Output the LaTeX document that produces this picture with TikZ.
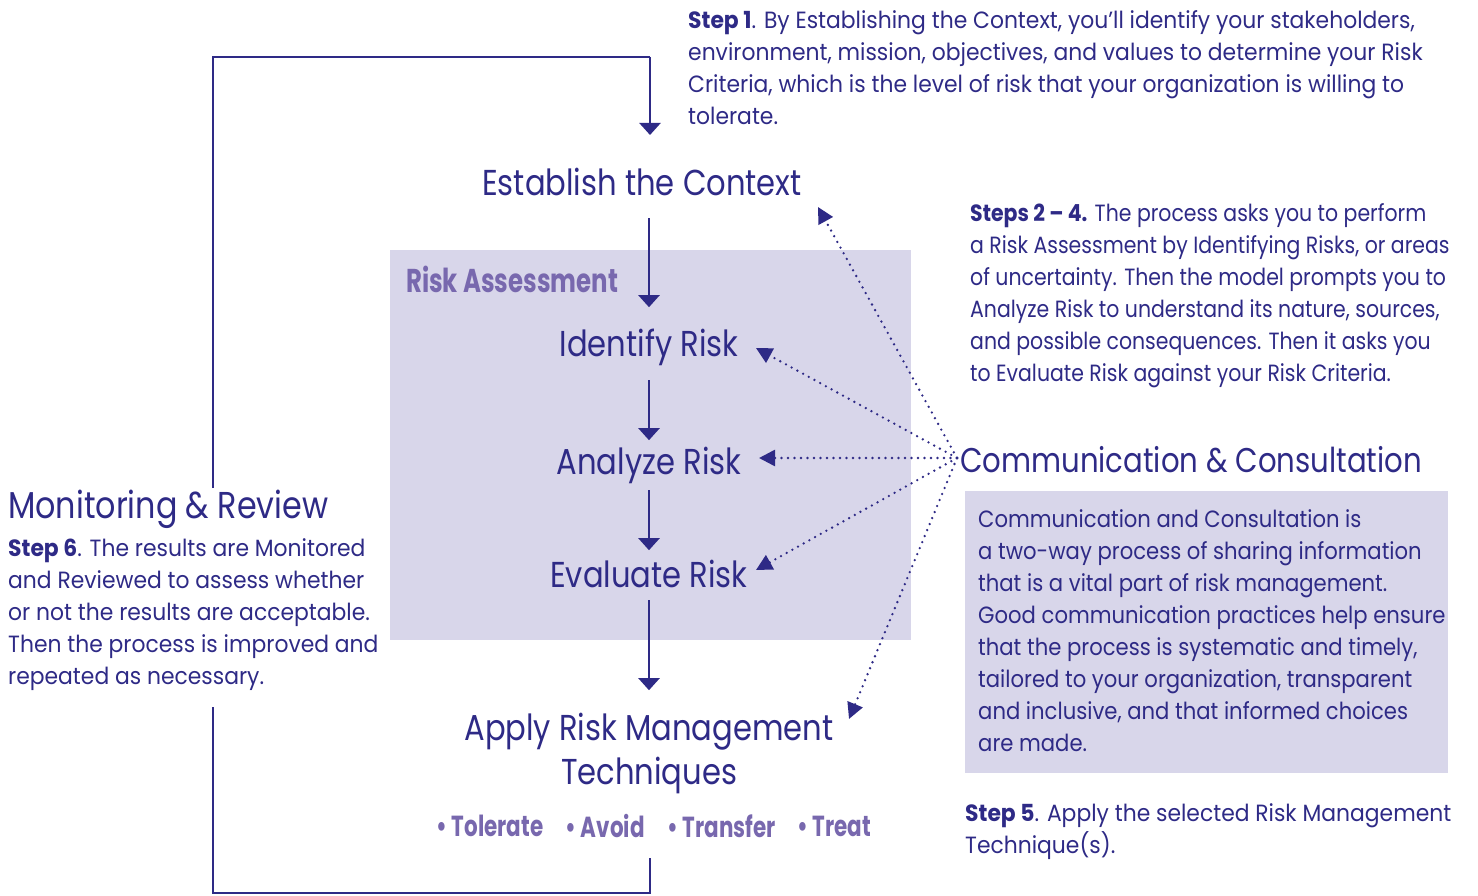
\documentclass[tikz,border=0pt]{standalone}
\usepackage{fontspec}
\setmainfont{Poppins}
\newfontfamily\headfont[FakeStretch=0.85]{Poppins}
\newfontfamily\bodyfont[FakeStretch=0.93]{Poppins}
\newfontfamily\boxbody[FakeStretch=0.90]{Poppins}
\newfontfamily\narrowbody[FakeStretch=0.87]{Poppins}
\newfontfamily\condbold[FakeStretch=0.74]{Poppins}
\usetikzlibrary{arrows.meta}
\definecolor{ink}{HTML}{2E2A86}
\definecolor{boxfill}{HTML}{D8D6EA}
\definecolor{lab}{HTML}{7868AE}
\begin{document}
\begin{tikzpicture}[x=1pt,y=-1pt,
  every node/.style={text=ink,inner sep=0pt},
  heading/.style={font=\headfont\fontsize{36}{44}\selectfont,text height=26pt,text depth=8pt,anchor=base},
  para/.style={font=\bodyfont\fontsize{23.5}{32}\selectfont,align=left,anchor=north west},
  arr/.style={draw=ink,line width=2.4pt,-{Triangle[length=12pt,width=21pt]}},
  loopline/.style={draw=ink,line width=2.4pt},
  dots/.style={draw=ink,line width=2.6pt,line cap=round,dash pattern=on 0pt off 6.5pt,-{Triangle[length=16pt,width=16pt]}},
  bul/.style={text=lab,font=\condbold\bfseries\fontsize{29}{34}\selectfont,anchor=west}
]
\useasboundingbox (0,0) rectangle (1478,896);
% shaded boxes
\node[fill=boxfill,minimum width=521pt,minimum height=390pt,anchor=north west] (rabox) at (390,250) {};
\node[fill=boxfill,minimum width=483pt,minimum height=282pt,anchor=north west] (ccbox) at (965,491) {};
\node[text=lab,font=\condbold\bfseries\fontsize{33}{38}\selectfont,anchor=west] (ralab) at (406,279) {Risk Assessment};

% headings
\node[heading] (ctx) at (642,196) {Establish the Context};
\node[heading] (id) at (649,356) {Identify Risk};
\node[heading] (az) at (649,474) {Analyze Risk};
\node[heading] (ev) at (649,587) {Evaluate Risk};
\node[heading,align=center] (ap) at (649,784) {Apply Risk Management\\Techniques};
\node[heading,anchor=base west,font=\headfont\fontsize{34.3}{44}\selectfont] (cc) at (960,472) {Communication \& Consultation};
\node[heading,anchor=base west,font=\headfont\fontsize{37.4}{44}\selectfont] (mr) at (8,518) {Monitoring \& Review};

% bullets
\node[bul] (b1) at (436,826) {•\,Tolerate};
\node[bul] (b2) at (565,826) {•\,Avoid};
\node[bul] (b3) at (667,826) {•\,Transfer};
\node[bul] (b4) at (797,826) {•\,Treat};

% paragraphs
\node[para] (s1) at (688,10) {{\bfseries Step 1}. By Establishing the Context, you’ll identify your stakeholders,\\environment, mission, objectives, and values to determine your Risk\\Criteria, which is the level of risk that your organization is willing to\\tolerate.};
\node[para,font=\narrowbody\fontsize{23.5}{32}\selectfont] (s24) at (970,203) {{\bfseries Steps 2 – 4.} The process asks you to perform\\a Risk Assessment by Identifying Risks, or areas\\of uncertainty. Then the model prompts you to\\Analyze Risk to understand its nature, sources,\\and possible consequences. Then it asks you\\to Evaluate Risk against your Risk Criteria.};
\node[para,font=\boxbody\fontsize{23.5}{32}\selectfont] (cct) at (978,509) {Communication and Consultation is\\a two-way process of sharing information\\that is a vital part of risk management.\\Good communication practices help ensure\\that the process is systematic and timely,\\tailored to your organization, transparent\\and inclusive, and that informed choices\\are made.};
\node[para] (s5) at (965,803) {{\bfseries Step 5}. Apply the selected Risk Management\\Technique(s).};
\node[para] (s6) at (8,538) {{\bfseries Step 6}. The results are Monitored\\and Reviewed to assess whether\\or not the results are acceptable.\\Then the process is improved and\\repeated as necessary.};

% main flow arrows
\draw[arr] (ctx.south -| id.south) ++(0,14) -- ++(0,89);
\draw[arr] (id.south) ++(0,16) -- ++(0,60);
\draw[arr] (az.south) ++(0,8) -- ++(0,60);
\draw[arr] (ev.south) ++(0,5) -- ++(0,90);

% loop
\coordinate (lt) at (213,57);
\coordinate (rt) at (650,57);
\coordinate (ctxin) at (650,135);
\coordinate (lmid) at (213,488);
\coordinate (lmid2) at (213,707);
\coordinate (lb) at (213,893);
\coordinate (rb) at (650,893);
\coordinate (apout) at (650,858);
\draw[loopline] (lmid) -- (lt) -- (rt);
\draw[arr] (rt) -- (ctxin);
\draw[loopline] (apout) -- (rb) -- (lb) -- (lmid2);

% communication dotted arrows
\coordinate (hub) at (957,458);
\coordinate (tctx) at (818,207);
\coordinate (tid) at (756,348);
\coordinate (taz) at (759,458);
\coordinate (tev) at (756,570);
\coordinate (tap) at (849,719);
\draw[dots] (hub) -- (tctx);
\draw[dots] (hub) -- (tid);
\draw[dots] (hub) -- (taz);
\draw[dots] (hub) -- (tev);
\draw[dots] (hub) -- (tap);
\end{tikzpicture}
\end{document}
